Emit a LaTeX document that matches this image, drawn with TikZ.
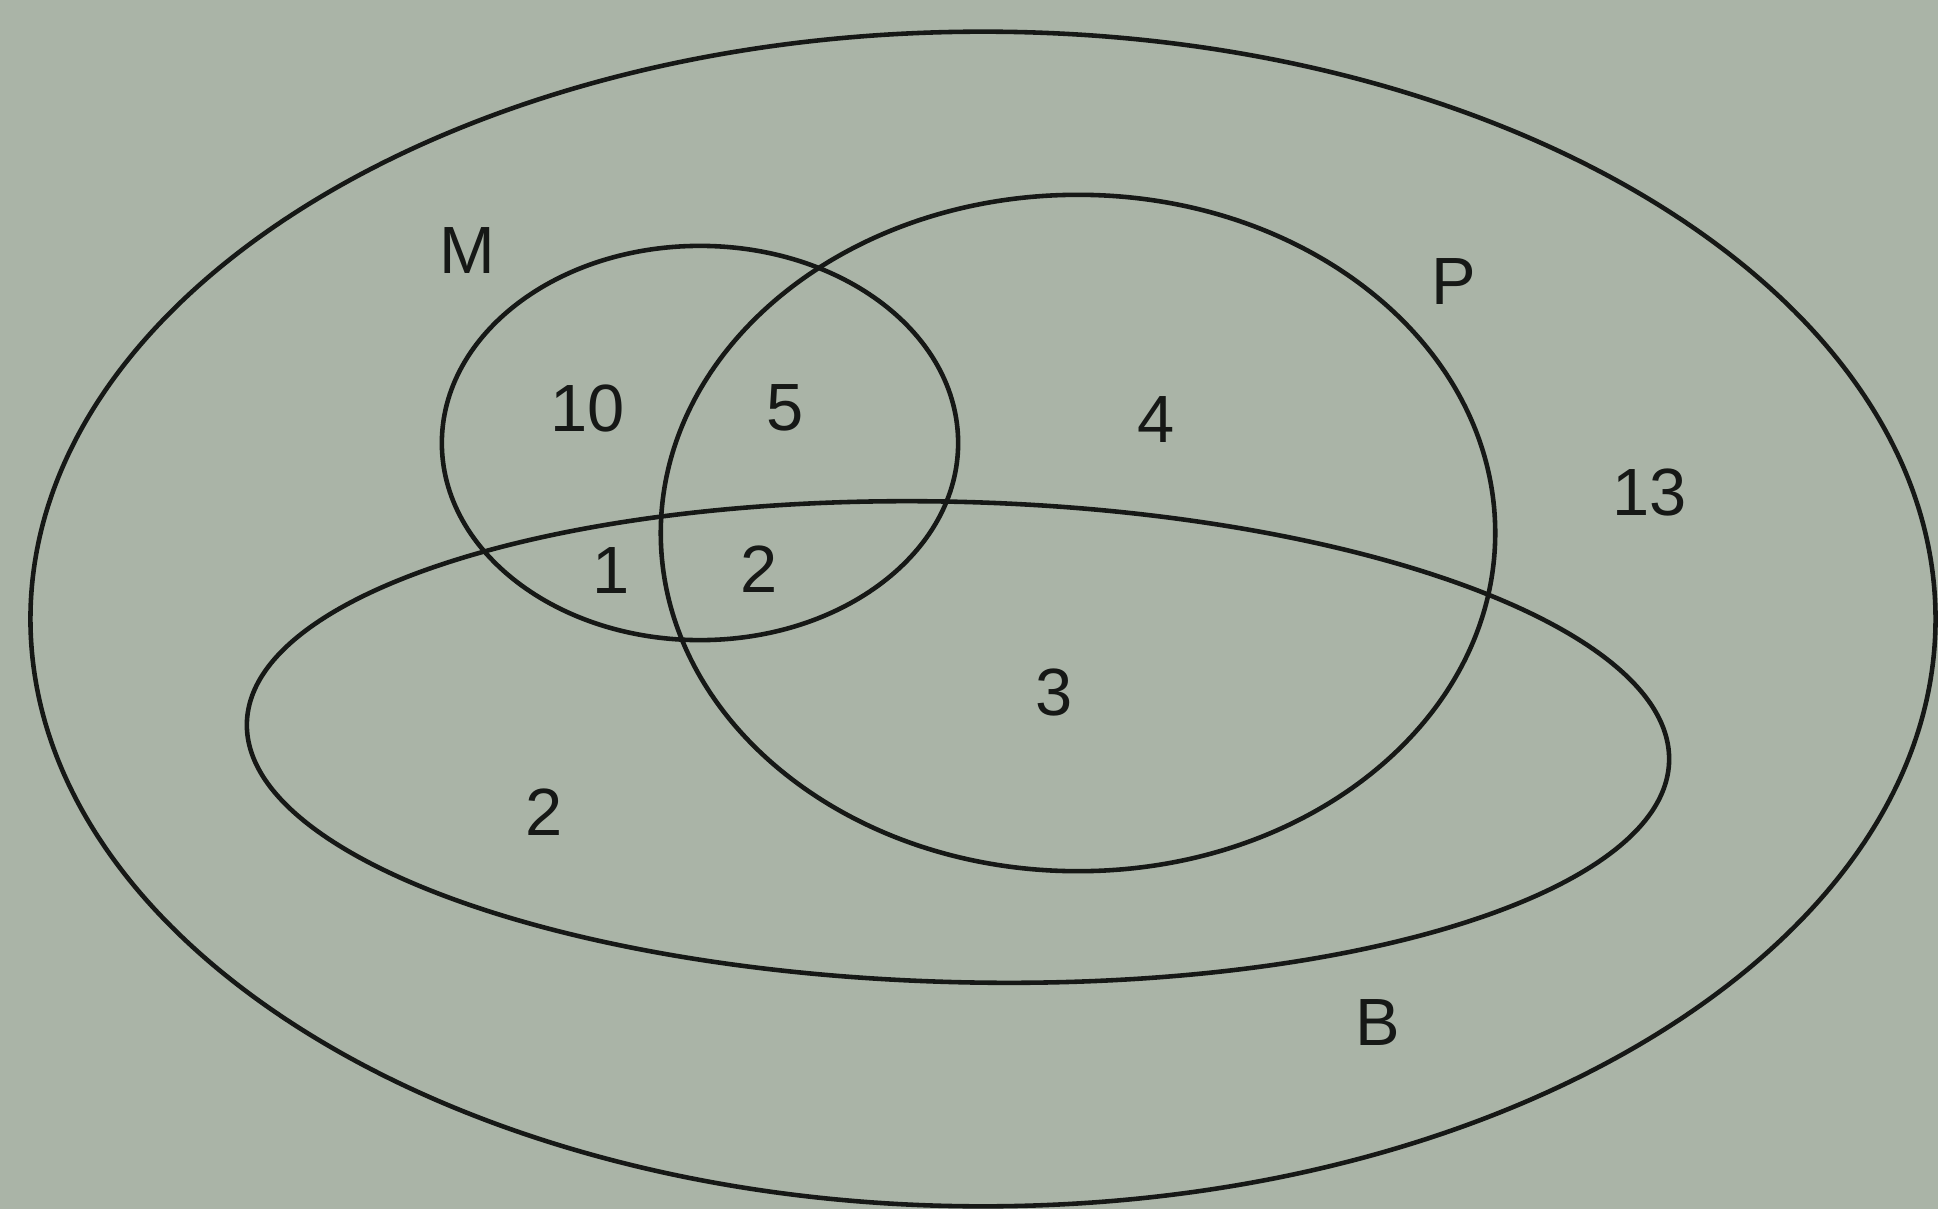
\documentclass[tikz,border=0pt]{standalone}
\usepackage{fontspec}
\setmainfont{Liberation Sans}
\definecolor{paper}{RGB}{170,180,167}
\definecolor{ink}{RGB}{22,24,22}
\begin{document}
\begin{tikzpicture}[x=0.01cm,y=-0.01cm,
  setline/.style={draw=ink,line width=1.3pt},
  lbl/.style={text=ink,inner sep=0pt,font=\fontsize{19}{19}\selectfont}]
\fill[paper] (0,0) rectangle (1938,1209);
\useasboundingbox (0,0) rectangle (1938,1209);
% universe
\draw[setline] (983,619) ellipse [x radius=9.52cm, y radius=5.87cm];
% M
\draw[setline] (700,443) ellipse [x radius=2.58cm, y radius=1.97cm];
% P
\draw[setline] (1078,533) ellipse [x radius=4.17cm, y radius=3.38cm];
% B
\draw[setline,rotate around={-1.55:(958,742)}] (958,742) ellipse [x radius=7.11cm, y radius=2.40cm];
% labels
\node[lbl] (lM) at (467,251) {M};
\node[lbl] (lP) at (1454,282) {P};
\node[lbl] (lB) at (1378,1023) {B};
\node[lbl] (n10) at (588,408) {10};
\node[lbl] (n5) at (785,408) {5};
\node[lbl] (n4) at (1156,420) {4};
\node[lbl] (n13) at (1650,492) {13};
\node[lbl] (n1) at (611,571) {1};
\node[lbl] (n2a) at (759,569) {2};
\node[lbl] (n3) at (1054,692) {3};
\node[lbl] (n2b) at (544,812) {2};
\end{tikzpicture}
\end{document}
